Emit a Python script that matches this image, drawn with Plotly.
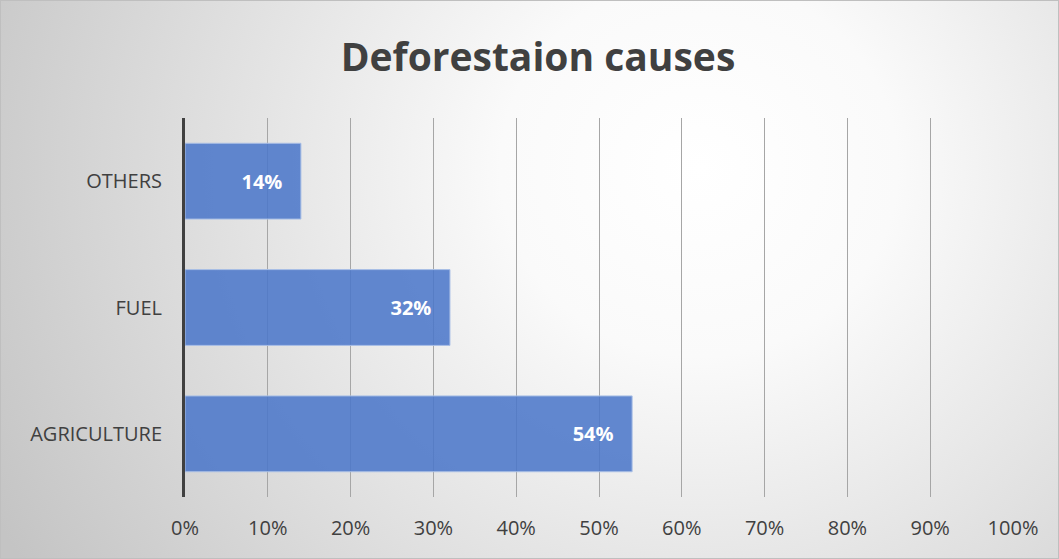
import plotly.graph_objects as go
import urllib.parse

categories = ["AGRICULTURE", "FUEL", "OTHERS"]
values = [0.54, 0.32, 0.14]
x_ticks = [0, 0.1, 0.2, 0.3, 0.4, 0.5, 0.6, 0.7, 0.8, 0.9, 1.0]

W, H = 1059, 559
L, R, T, B = 185, 46, 118, 62
pw, ph = W - L - R, H - T - B

svg = f'''<svg xmlns="http://www.w3.org/2000/svg" width="{W}" height="{H}" viewBox="0 0 {W} {H}" preserveAspectRatio="none">
<defs><radialGradient id="g" cx="0.66" cy="0.3" r="0.75" gradientUnits="objectBoundingBox" gradientTransform="translate(0.66,0.3) scale(1,1.8) translate(-0.66,-0.3)">
<stop offset="0" stop-color="#ffffff"/><stop offset="0.25" stop-color="#fafafa"/><stop offset="1" stop-color="#c4c4c4"/></radialGradient></defs>
<rect x="0" y="0" width="{W}" height="{H}" fill="url(#g)"/>
<rect x="0.5" y="0.5" width="{W-1}" height="{H-1}" fill="none" stroke="#bfbfbf" stroke-width="1"/>
</svg>'''
src = "data:image/svg+xml;charset=utf-8," + urllib.parse.quote(svg)

fig = go.Figure(go.Bar(
    x=values, y=categories, orientation="h",
    marker=dict(color="rgba(76,120,202,0.88)", line=dict(color="#a9bfe6", width=1)),
    width=0.6,
    text=[f"{v:.0%}\u00a0\u00a0\u00a0" for v in values],
    textposition="inside", insidetextanchor="end",
    textfont=dict(family="Open Sans", size=20, color="white", weight="bold"),
    cliponaxis=False,
))

fig.update_layout(
    width=W, height=H,
    margin=dict(l=L, r=R, t=T, b=B),
    paper_bgcolor="#d9d9d9",
    plot_bgcolor="rgba(0,0,0,0)",
    title=dict(text="<b>Deforestaion causes</b>", x=0.508, xanchor="center", y=0.898, yanchor="middle",
               font=dict(family="Open Sans", size=39, color="#404040")),
    showlegend=False,
    images=[dict(source=src, xref="paper", yref="paper",
                 x=-L / pw, y=1 + T / ph, sizex=W / pw, sizey=H / ph,
                 xanchor="left", yanchor="top", sizing="stretch", layer="below")],
    xaxis=dict(range=[0, 1.0], tickvals=x_ticks, tickformat=".0%",
               showgrid=True, gridcolor="#a6a6a6", gridwidth=1.3,
               zeroline=False, showline=False, ticks="outside", ticklen=13,
               tickcolor="rgba(0,0,0,0)",
               tickfont=dict(family="Open Sans", size=20, color="#404040")),
    yaxis=dict(showgrid=False, zeroline=False, showline=True, linecolor="#404040", linewidth=3,
               ticks="outside", ticklen=16, tickcolor="rgba(0,0,0,0)",
               tickfont=dict(family="Open Sans", size=20, color="#404040")),
    bargap=0.4,
)

fig.write_html("out.html")
